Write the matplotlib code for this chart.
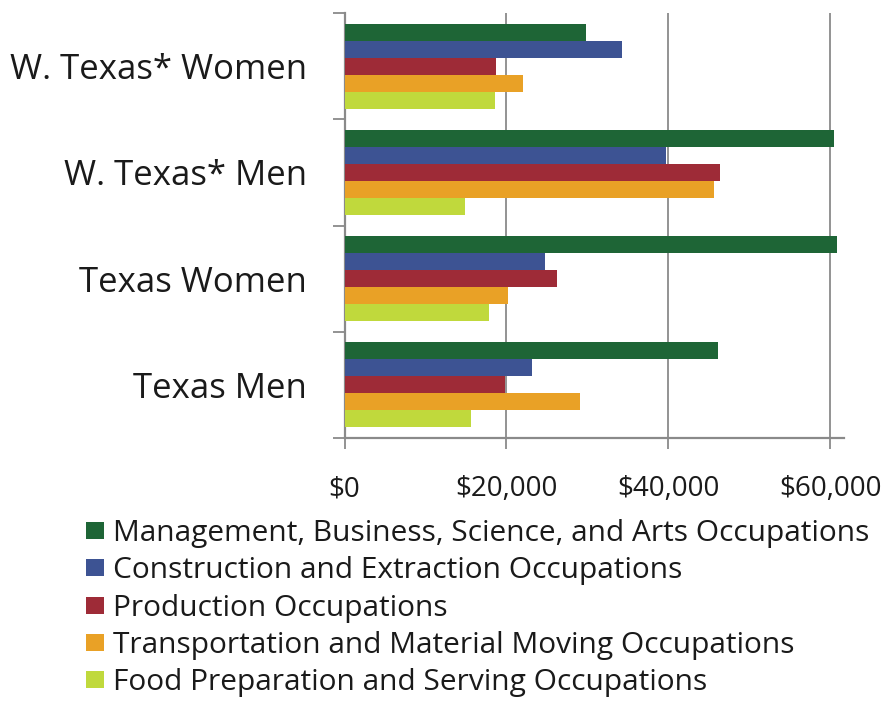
import matplotlib
matplotlib.use("Agg")
import matplotlib.pyplot as plt
from matplotlib.patches import Patch
from matplotlib.ticker import FuncFormatter, FixedLocator

plt.rcParams['font.family'] = ['Open Sans', 'DejaVu Sans']

categories = ["Texas Men", "Texas Women", "W. Texas* Men", "W. Texas* Women"]
series_names = [
    "Management, Business, Science, and Arts Occupations",
    "Construction and Extraction Occupations",
    "Production Occupations",
    "Transportation and Material Moving Occupations",
    "Food Preparation and Serving Occupations",
]
management = [46100, 60800, 60500, 29800]
construction = [23100, 24800, 39700, 34300]
production = [19800, 26300, 46400, 18700]
transportation = [29100, 20200, 45600, 22000]
food_prep = [15600, 17800, 14900, 18600]
values = [management, construction, production, transportation, food_prep]
colors = ["#1e6536", "#3d5393", "#9e2b37", "#e9a126", "#c0d93c"]
x_ticks = [0, 20000, 40000, 60000]

fig = plt.figure(figsize=(8.9, 7.02), dpi=100)
ax = fig.add_axes([344.5/890, 1-438/702, (844-344.5)/890, (438-13)/702])

h = 0.16
for i, (vals, col) in enumerate(zip(values, colors)):
    ys = [c + (2 - i) * h for c in range(len(categories))]
    ax.barh(ys, vals, height=h, color=col, edgecolor='none', zorder=3)

ax.set_xlim(0, 61700)
ax.set_ylim(-0.5, len(categories) - 0.5)
ax.set_xticks(x_ticks)
ax.xaxis.set_major_formatter(FuncFormatter(lambda v, p: "$" + format(int(v), ",")))
ax.set_yticks(range(len(categories)))
ax.set_yticklabels(categories)
ax.yaxis.set_minor_locator(FixedLocator([k - 0.5 for k in range(len(categories) + 1)]))
ax.tick_params(axis='y', which='major', length=0, pad=27, labelsize=25, colors='#1a1a1a')
ax.tick_params(axis='y', which='minor', length=8.5, width=1.3, color='#8a8a8a')
ax.tick_params(axis='x', which='major', length=8, width=1.3, color='#8a8a8a', pad=19,
               labelsize=20, labelcolor='#1a1a1a')

for s in ['top', 'right']:
    ax.spines[s].set_visible(False)
for s in ['left', 'bottom']:
    ax.spines[s].set_color('#8a8a8a')
    ax.spines[s].set_linewidth(1.6)

ax.grid(axis='x', color='#8a8a8a', linewidth=1.3, zorder=0)
ax.set_axisbelow(True)

handles = [Patch(facecolor=c, edgecolor='none') for c in colors]
leg = fig.legend(handles, series_names, loc='upper left', bbox_to_anchor=(86/890, 1-519/702),
                 frameon=False, fontsize=21.5, handlelength=0.6, handleheight=0.5,
                 handletextpad=0.3, labelspacing=0.28, borderaxespad=0, borderpad=0)
for t in leg.get_texts():
    t.set_color('#1a1a1a')

fig.savefig("out.png", dpi=100)
